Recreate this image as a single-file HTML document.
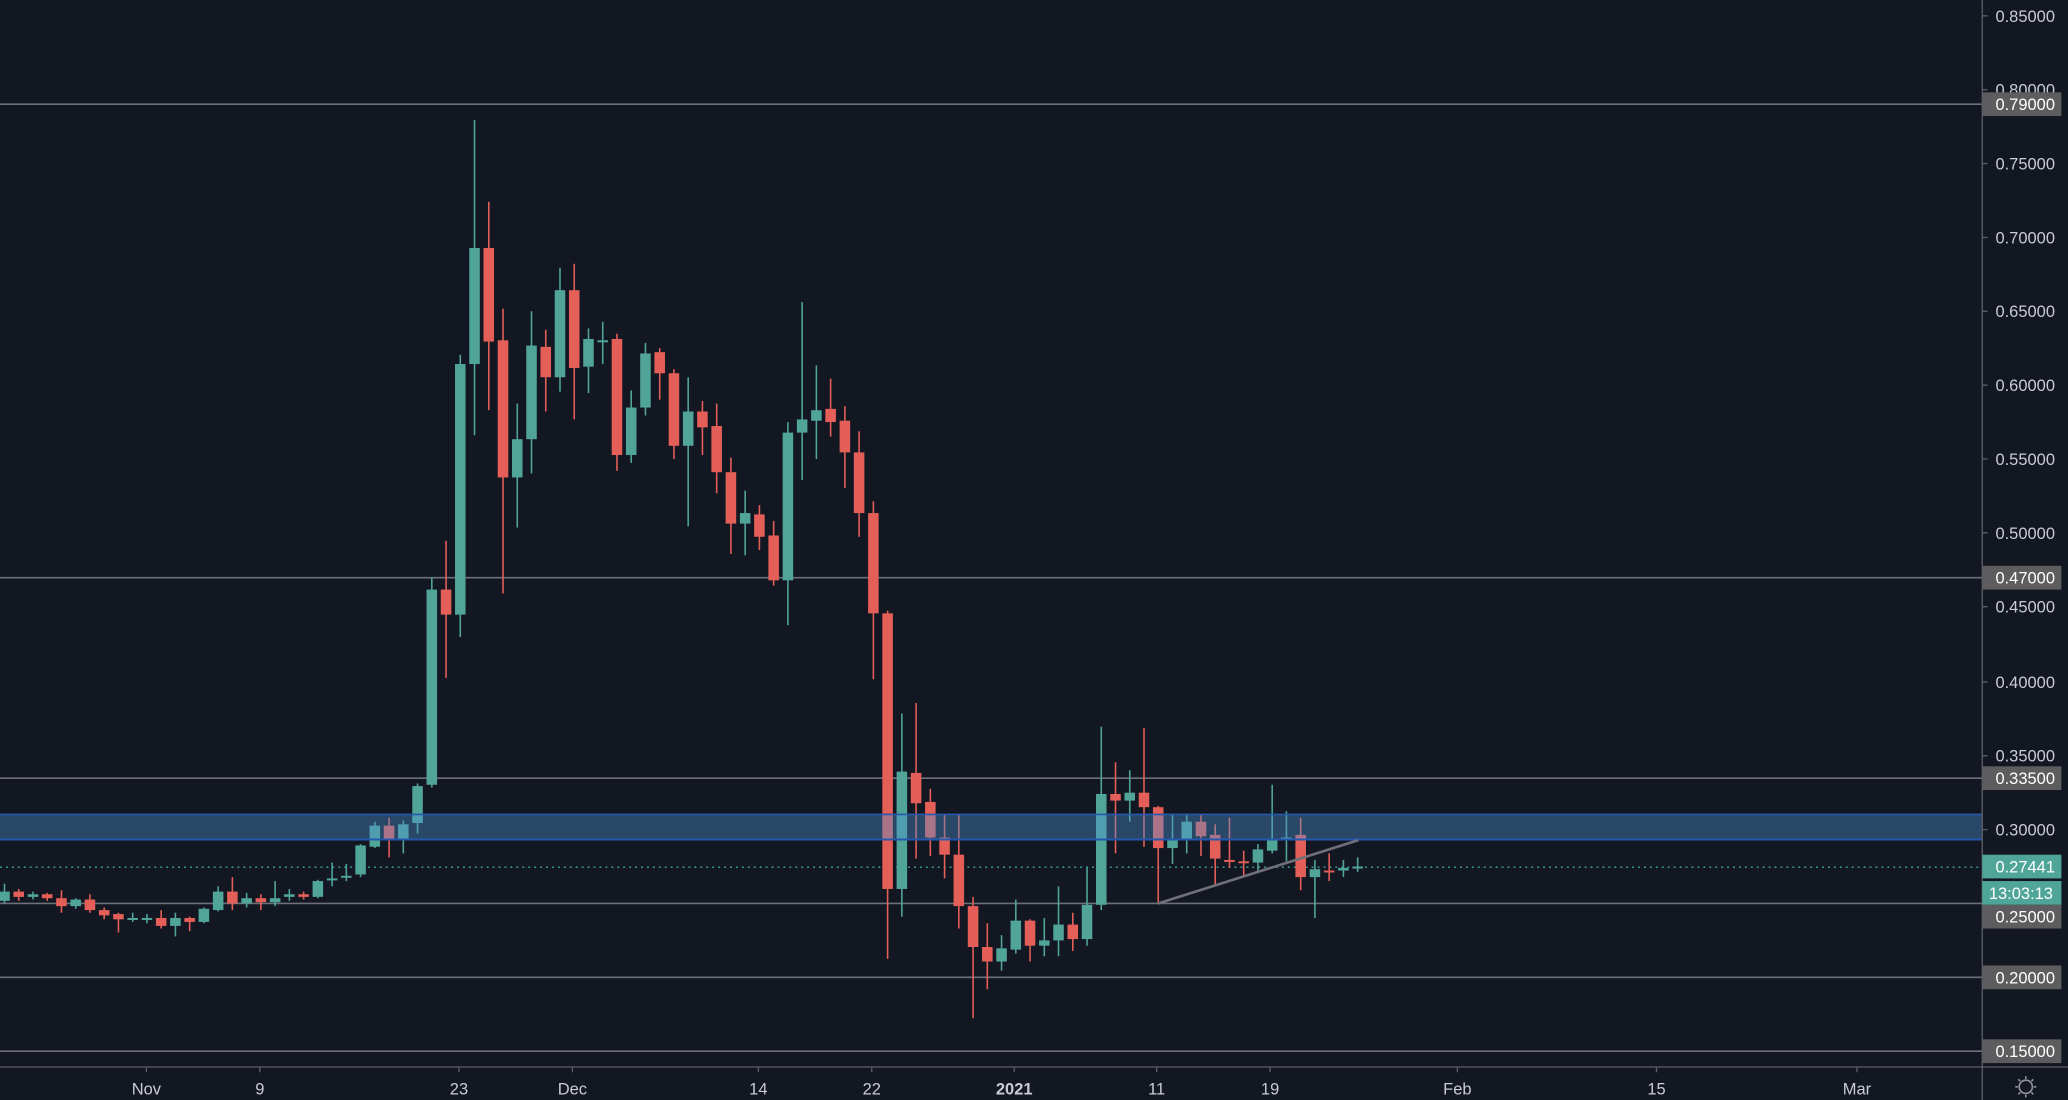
<!DOCTYPE html>
<html><head><meta charset="utf-8"><style>
html,body{margin:0;padding:0;background:#131722;}
svg{display:block;}
text{font-family:"Liberation Sans",sans-serif;}
</style></head><body>
<svg id="c" width="2068" height="1100" viewBox="0 0 1568 834" preserveAspectRatio="none" xmlns="http://www.w3.org/2000/svg">
<rect x="0" y="0" width="1568" height="834" fill="#131722"/>
<g id="hl" stroke="#6e7079" stroke-width="1.2">
<line x1="0" y1="79" x2="1503" y2="79"/>
<line x1="0" y1="438" x2="1503" y2="438"/>
<line x1="0" y1="590" x2="1503" y2="590"/>
<line x1="0" y1="685" x2="1503" y2="685"/>
<line x1="0" y1="741" x2="1503" y2="741"/>
<line x1="0" y1="797" x2="1503" y2="797"/>
</g>
<line x1="0" y1="657.5" x2="1503" y2="657.5" stroke="#3fa597" stroke-width="1" stroke-dasharray="1.5,3"/>
<g id="candles"></g>
<rect x="0" y="617" width="1503" height="20" fill="rgb(80,150,216)" fill-opacity="0.38"/>
<line x1="0" y1="617.5" x2="1503" y2="617.5" stroke="#2457b0" stroke-width="1.2"/>
<line x1="0" y1="636.5" x2="1503" y2="636.5" stroke="#2457b0" stroke-width="1.5"/>
<line x1="878" y1="685" x2="1030" y2="637" stroke="#6f7079" stroke-width="2"/>
<line x1="1503" y1="0" x2="1503" y2="834" stroke="#5d606b" stroke-width="1"/>
<line x1="0" y1="809" x2="1568" y2="809" stroke="#5d606b" stroke-width="1"/>
<g id="axis" fill="#c9ccd4" font-size="12.5"></g>
</svg>
<script>
var d=[
['g',676,683,670,685],['r',676,680,674,683],['g',678,680,676,682],['r',678,681,677,683],
['r',681,687,675,692],['g',682,687,681,689],['r',682,690,678,692],['r',690,694,688,697],
['r',693,697,692,707],['g',696,697,692,699],['g',696,697,693,700],['r',696,702,690,704],
['g',696,702,692,710],['r',696,699,695,706],['g',689,699,688,700],['g',676,690,672,691],
['r',676,685,665,690],['g',681,685,677,688],['r',681,684,678,690],['g',681,684,668,687],
['g',678,680,674,683],['r',678,680,676,682],['g',668,680,667,681],['g',666,667,654,672],
['g',664,665,655,668],['g',641,663,640,665],['g',626,642,623,643],['r',626,636,620,650],
['g',625,636,622,647],['g',596,624,594,632],['g',447,595,438,597],['r',447,466,410,514],
['g',276,466,269,483],['g',188,276,91,330],['r',188,259,153,311],['r',258,362,234,450],
['g',333,362,306,400],['g',262,333,236,359],['r',263,286,250,312],['g',220,286,203,297],
['r',220,279,200,318],['g',257,278,249,298],['g',258,259,244,276],['r',257,345,253,357],
['g',309,345,296,351],['g',268,309,260,315],['r',267,283,264,303],['r',283,338,280,348],
['g',312,338,286,399],['r',312,324,304,345],['r',323,358,306,374],['r',358,397,347,420],
['g',389,397,372,421],['r',390,407,383,417],['r',406,440,395,444],['g',328,440,320,474],
['g',318,328,229,364],['g',311,319,277,348],['r',310,320,287,331],['r',319,343,308,370],
['r',343,389,327,407],['r',389,465,380,515],['r',465,674,463,727],['g',585,674,541,695],
['r',586,609,533,651],['r',608,635,598,649],['r',635,648,617,666],['r',648,687,618,704],
['r',687,718,680,772],['r',718,729,700,750],['g',719,729,709,736],['g',698,720,682,723],
['r',698,717,697,729],['g',713,717,696,725],['g',701,713,672,725],['r',701,712,692,721],
['g',686,712,658,717],['g',602,686,551,690],['r',602,607,578,647],['g',601,607,584,623],
['r',601,612,552,642],['r',612,643,611,685],['g',636,643,617,655],['g',623,636,617,647],
['r',623,634,618,649],['r',633,651,625,672],['r',652,653,620,658],['r',653,654,645,665],
['g',644,654,640,661],['g',636,645,595,647],['g',635,636,615,653],['r',633,665,620,675],
['g',659,665,652,696],['r',660,661,647,668],['g',658,660,652,665],['g',657,658,650,661]
];
var NS="http://www.w3.org/2000/svg",g=document.getElementById('candles');
function el(n,a,p){var e=document.createElementNS(NS,n);for(var k in a)e.setAttribute(k,a[k]);(p||g).appendChild(e);return e;}
d.forEach(function(c,i){
 var x=3.4+10.8*i,col=c[0]=='g'?'#50a498':'#e35f57';
 el('rect',{x:x-0.6,y:c[3],width:1.2,height:c[4]-c[3],fill:col});
 var h=Math.max(c[2]-c[1],1.5);
 el('rect',{x:x-4,y:c[1],width:8,height:h,fill:col});
});
var ax=document.getElementById('axis');
function t(x,y,s,a){var e=el('text',Object.assign({x:x,y:y},a||{}),ax);e.textContent=s;return e;}
[[0.85,12],[0.80,68],[0.75,124],[0.70,180],[0.65,236],[0.60,292],[0.55,348],[0.50,404],[0.45,460],[0.40,517],[0.35,573],[0.30,629]].forEach(function(p){
 el('line',{x1:1503,y1:p[1],x2:1507,y2:p[1],stroke:'#5d606b'},ax);
 t(1513,p[1]+4.5,p[0].toFixed(5));
});
[['0.79000',79,'#5d5d5f'],['0.47000',438,'#5d5d5f'],['0.33500',590,'#5d5d5f'],['0.27441',657,'#4fa598'],['13:03:13',677,'#4fa598'],['0.25000',695,'#5d5d5f'],['0.20000',741,'#5d5d5f'],['0.15000',797,'#5d5d5f']].forEach(function(b){
 el('rect',{x:1503,y:b[1]-9,width:60,height:18,fill:b[2]},ax);
 var e=t(b[0].indexOf(':')>0?1508:1513,b[1]+4.5,b[0],{fill:'#ffffff'});
});
[['Nov',111],['9',197],['23',348],['Dec',434],['14',575],['22',661],['2021',769],['11',877],['19',963],['Feb',1105],['15',1256],['Mar',1408]].forEach(function(l){
 el('line',{x1:l[1],y1:809,x2:l[1],y2:813,stroke:'#5d606b'},ax);
 var e=t(l[1],830,l[0],{'text-anchor':'middle'});
 if(l[0]=='2021')e.setAttribute('font-weight','bold');
});
el('circle',{cx:1536,cy:824,r:5,fill:'none',stroke:'#9598a1','stroke-width':1.2},ax);
for(var k=0;k<8;k++){var a=k*Math.PI/4;el('line',{x1:1536+6*Math.cos(a),y1:824+6*Math.sin(a),x2:1536+8*Math.cos(a),y2:824+8*Math.sin(a),stroke:'#9598a1','stroke-width':1.2},ax);}
</script>
</body></html>
